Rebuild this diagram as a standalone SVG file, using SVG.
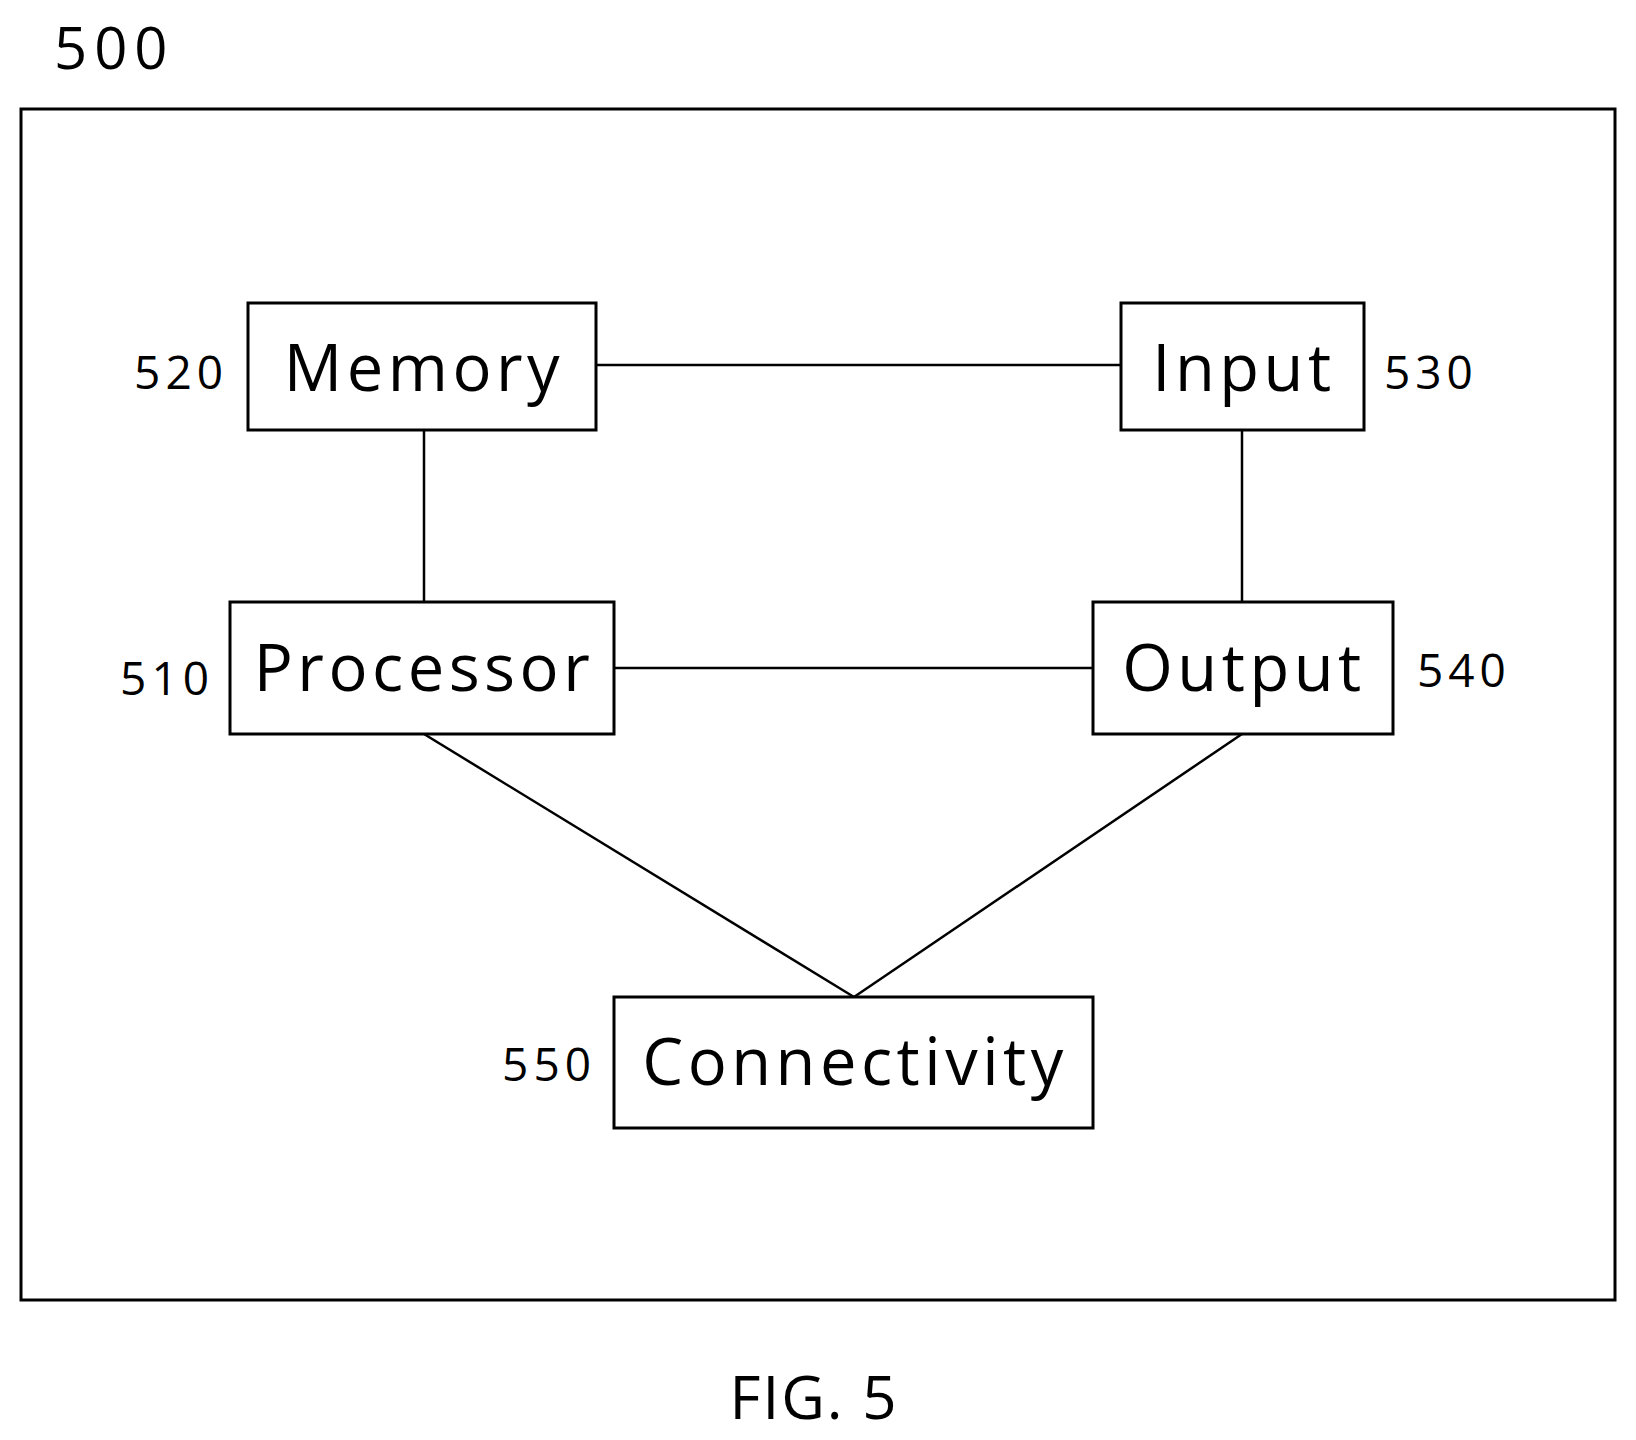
<svg xmlns="http://www.w3.org/2000/svg" width="1636" height="1440" viewBox="0 0 1636 1440">
<style>
.b{fill:#fff;stroke:#000;stroke-width:3}
.t{font-family:"Open Sans","Noto Sans",sans-serif;font-size:65px;text-anchor:middle;letter-spacing:4.5px}
.n{font-family:"Open Sans","Noto Sans",sans-serif;font-size:46px;letter-spacing:5px}
.c line{stroke:#000;stroke-width:2.5}
</style>
<rect width="1636" height="1440" fill="#fff"/>
<text class="n" x="54" y="69" style="font-size:58px;letter-spacing:7px">500</text>
<rect x="21" y="109" width="1594" height="1191" fill="none" stroke="#000" stroke-width="3"/>
<g class="c">
<line x1="596" y1="365" x2="1121" y2="365"/>
<line x1="424" y1="430" x2="424" y2="602"/>
<line x1="1242" y1="430" x2="1242" y2="602"/>
<line x1="614" y1="668" x2="1093" y2="668"/>
<line x1="424" y1="734" x2="854" y2="997"/>
<line x1="1242" y1="734" x2="854" y2="997"/>
</g>
<g id="memory"><rect class="b" x="248" y="303" width="348" height="127"/><text class="t" x="424" y="391">Memory</text><text class="n" x="228" y="389" text-anchor="end">520</text></g>
<g id="input"><rect class="b" x="1121" y="303" width="243" height="127"/><text class="t" x="1244" y="391">Input</text><text class="n" x="1384" y="389">530</text></g>
<g id="processor"><rect class="b" x="230" y="602" width="384" height="132"/><text class="t" x="424" y="691">Processor</text><text class="n" x="214" y="695" text-anchor="end">510</text></g>
<g id="output"><rect class="b" x="1093" y="602" width="300" height="132"/><text class="t" x="1244" y="691">Output</text><text class="n" x="1417" y="687">540</text></g>
<g id="connectivity"><rect class="b" x="614" y="997" width="479" height="131"/><text class="t" x="855" y="1085">Connectivity</text><text class="n" x="596" y="1081" text-anchor="end">550</text></g>
<text class="t" x="814" y="1419" style="font-size:60px;letter-spacing:2px">FIG. 5</text>
</svg>
